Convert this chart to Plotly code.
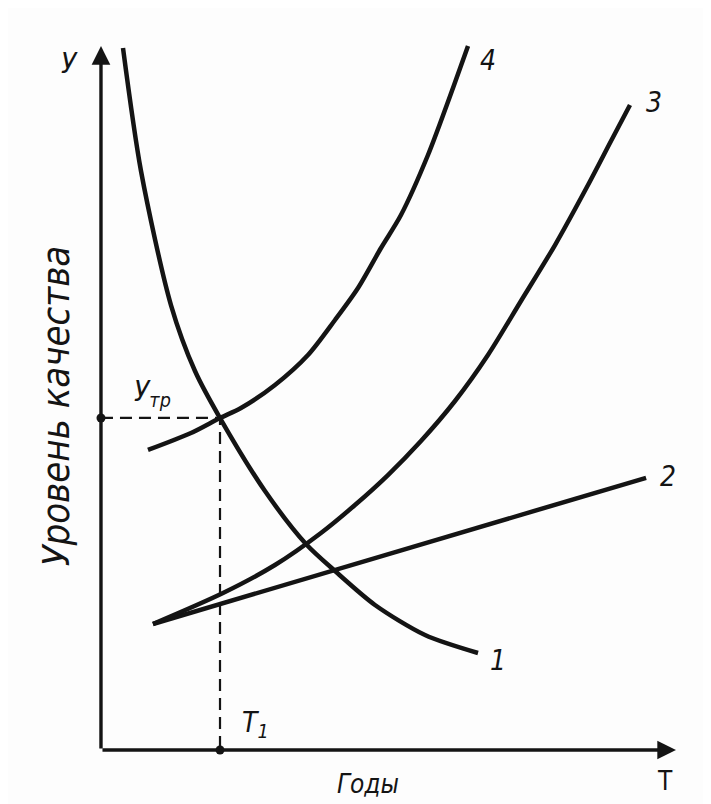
import plotly.graph_objects as go

# curve points, in chart units (x: 0..10, y: 0..12)
c1_x = [0.383, 0.696, 1.217, 1.635, 2.070, 2.852, 3.565, 4.070, 4.765, 5.635, 6.557]
c1_y = [11.966, 9.869, 7.585, 6.460, 5.659, 4.415, 3.511, 3.051, 2.472, 1.960, 1.653]

c2_x = [0.904, 9.48]
c2_y = [2.148, 4.64]

c3_x = [0.904, 2.122, 3.026, 3.826, 4.417, 4.991, 5.565, 6.157, 6.730, 7.304, 7.896, 8.470, 8.870, 9.200]
c3_y = [2.148, 2.676, 3.153, 3.699, 4.176, 4.687, 5.267, 5.949, 6.733, 7.653, 8.608, 9.631, 10.381, 10.994]

c4_x = [0.817, 1.565, 2.070, 2.435, 3.026, 3.600, 4.070, 4.470, 4.870, 5.217, 5.687, 6.122, 6.383]
c4_y = [5.114, 5.403, 5.659, 5.830, 6.222, 6.733, 7.330, 7.875, 8.557, 9.119, 10.142, 11.284, 12.000]

t1 = 2.07      # year when curve 1 meets curve 4
y_req = 5.66   # required quality level
x_end = 10     # arrow tips of the axes
y_end = 12

curve_labels = ["1", "2", "3", "4"]
label_x = [6.90, 9.86, 9.62, 6.73]
label_y = [1.53, 4.67, 11.03, 11.76]

INK = "#141414"
FONT = "DejaVu Sans Condensed, Liberation Sans Narrow, DejaVu Sans"

fig = go.Figure()

for xs, ys in [(c1_x, c1_y), (c2_x, c2_y), (c3_x, c3_y), (c4_x, c4_y)]:
    fig.add_trace(go.Scatter(x=xs, y=ys, mode="lines",
                             line=dict(color=INK, width=4.5, shape="spline", smoothing=0.8),
                             cliponaxis=False, hoverinfo="skip"))

# dashed guides to the axes
fig.add_trace(go.Scatter(x=[0, t1, t1], y=[y_req, y_req, 0], mode="lines",
                         line=dict(color=INK, width=2.2, dash="12px,7px"),
                         cliponaxis=False, hoverinfo="skip"))
fig.add_trace(go.Scatter(x=[0, t1], y=[y_req, 0], mode="markers",
                         marker=dict(color=INK, size=9), cliponaxis=False, hoverinfo="skip"))

# axes drawn as arrows
fig.add_annotation(x=0, y=y_end, ax=0, ay=0, xref="x", yref="y", axref="x", ayref="y",
                   text="", showarrow=True, arrowhead=2, arrowsize=1.1, arrowwidth=3.4, arrowcolor=INK)
fig.add_annotation(x=x_end, y=0, ax=0, ay=0, xref="x", yref="y", axref="x", ayref="y",
                   text="", showarrow=True, arrowhead=2, arrowsize=1.1, arrowwidth=3.4, arrowcolor=INK)

for txt, lx, ly in zip(curve_labels, label_x, label_y):
    fig.add_annotation(x=lx, y=ly, text=txt, showarrow=False,
                       font=dict(family=FONT, size=28, color=INK, style="italic"))

texts = [
    ("У", -0.54, 11.71, 28, 0, "italic"),
    ("У<sub>тр</sub>", 0.90, 6.08, 28, 0, "italic"),
    ("T<sub>1</sub>", 2.68, 0.44, 28, 0, "italic"),
    ("Годы", 4.64, -0.58, 26, 0, "italic"),
    ("T", 9.81, -0.53, 26, 0, "normal"),
    ("Уровень качества", -0.78, 5.86, 38, -90, "italic"),
]
for txt, lx, ly, sz, ang, st in texts:
    fig.add_annotation(x=lx, y=ly, text=txt, showarrow=False, textangle=ang,
                       font=dict(family=FONT, size=sz, color=INK, style=st))

# ranges chosen so that the origin sits where it does on the scan
fig.update_xaxes(range=[-1.617, 10.748], visible=False)
fig.update_yaxes(range=[-1.057, 12.648], visible=False)
fig.update_layout(width=711, height=804, showlegend=False,
                  margin=dict(l=0, r=0, t=0, b=0),
                  paper_bgcolor="#fdfdfd", plot_bgcolor="#fdfdfd")

fig.write_html("out.html")
